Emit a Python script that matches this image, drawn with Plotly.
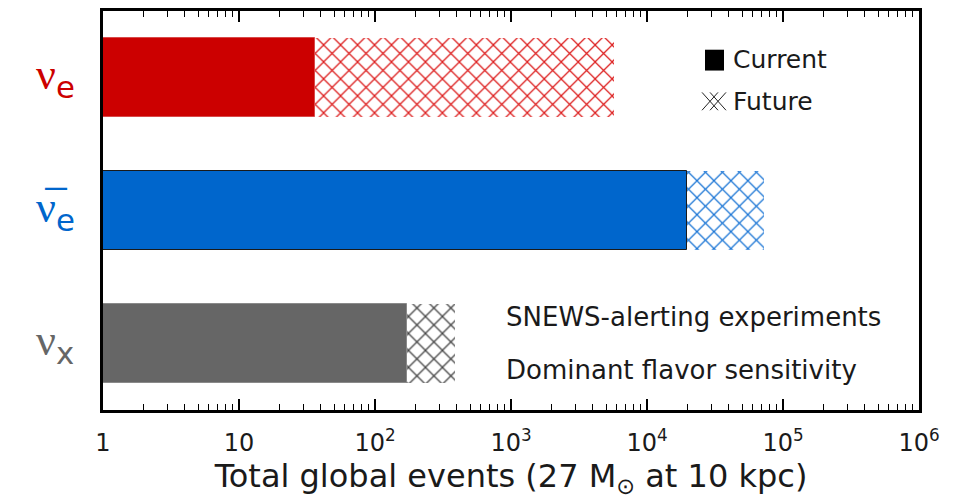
import plotly.graph_objects as go

# Neutrino flavours (top to bottom) and their label markup
flavors = ["nu_e", "nu_e_bar", "nu_x"]
flavor_labels = [
    "<span style='font-family:Liberation Serif'>ν</span><sub>e</sub>",
    "<span style='font-family:Liberation Serif'>ν̅</span><sub>e</sub>",
    "<span style='font-family:Liberation Serif'>ν</span><sub>x</sub>",
]
# Total global events for a 27 Msun supernova at 10 kpc
current_events = [36.5, 19800, 172]
future_events = [5700, 73000, 388]

solid_colors = ["#cc0000", "#0066cc", "#666666"]
hatch_colors = ["#dd2020", "#1f78d6", "#444444"]
edge_colors = ["#d84a4a", "#1a1a1a", "#8a8a8a"]

decades = [1, 10, 100, 1e3, 1e4, 1e5, 1e6]
decade_text = ["1", "10", "10<sup>2</sup>", "10<sup>3</sup>",
               "10<sup>4</sup>", "10<sup>5</sup>", "10<sup>6</sup>"]
minor_vals = [m * d for d in decades[:-1] for m in range(2, 10)]

FONT = "DejaVu Sans"

fig = go.Figure()

# Future reach: hatched bars drawn underneath
for i, f in enumerate(flavors):
    fig.add_trace(go.Bar(
        y=[f], x=[future_events[i]], orientation="h", width=0.6,
        marker=dict(
            color=hatch_colors[i],
            line=dict(width=0),
            pattern=dict(shape="x", fgcolor=hatch_colors[i], bgcolor="white",
                         fillmode="replace", size=12, solidity=0.2),
        ),
        showlegend=False, hoverinfo="skip",
    ))

# Current reach: solid bars on top
for i, f in enumerate(flavors):
    fig.add_trace(go.Bar(
        y=[f], x=[current_events[i]], orientation="h", width=0.6,
        marker=dict(color=solid_colors[i], line=dict(width=1, color=edge_colors[i])),
        showlegend=False, hoverinfo="skip",
    ))

W, H = 962, 501
L, R, T, B = 103, 43, 8, 91
PW, PH = W - L - R, H - T - B


def px(xp):
    return (xp - L) / PW


def py(yp):
    return (H - B - yp) / PH


annotations = []
for i, f in enumerate(flavors):
    annotations.append(dict(
        x=px(55), y=f, xref="paper", yref="y", text=flavor_labels[i],
        showarrow=False, xanchor="center", yanchor="middle",
        font=dict(size=44, color=solid_colors[i], family=FONT),
    ))

text_font = dict(size=26, color="#1a1a1a", family=FONT)
annotations += [
    dict(x=px(504), y=py(316), xref="paper", yref="paper", text="SNEWS-alerting experiments",
         showarrow=False, xanchor="left", yanchor="middle", font=text_font),
    dict(x=px(504), y=py(370), xref="paper", yref="paper", text="Dominant flavor sensitivity",
         showarrow=False, xanchor="left", yanchor="middle", font=text_font),
    dict(x=px(731), y=py(57), xref="paper", yref="paper", text="Current",
         showarrow=False, xanchor="left", yanchor="middle", font=dict(text_font, size=25)),
    dict(x=px(731), y=py(99), xref="paper", yref="paper", text="Future",
         showarrow=False, xanchor="left", yanchor="middle", font=dict(text_font, size=25)),
]

# Legend keys: solid square and a small crosshatch glyph
shapes = [dict(type="rect", xref="paper", yref="paper",
               x0=px(705), x1=px(724), y0=py(68), y1=py(47),
               fillcolor="black", line=dict(width=0))]
cx, cy = 714, 99
for s in (-4, 4):
    shapes.append(dict(type="line", xref="paper", yref="paper",
                       x0=px(cx + s - 8), y0=py(cy - 9), x1=px(cx + s + 8), y1=py(cy + 9),
                       line=dict(color="#222222", width=1)))
    shapes.append(dict(type="line", xref="paper", yref="paper",
                       x0=px(cx + s - 8), y0=py(cy + 9), x1=px(cx + s + 8), y1=py(cy - 9),
                       line=dict(color="#222222", width=1)))

fig.update_layout(
    width=W, height=H,
    margin=dict(l=L, r=R, t=T, b=B),
    paper_bgcolor="white", plot_bgcolor="white",
    barmode="overlay", bargap=0,
    showlegend=False,
    annotations=annotations, shapes=shapes,
    font=dict(family=FONT, color="#1a1a1a"),
)

fig.update_xaxes(
    type="log", range=[0, 6],
    tickvals=decades, ticktext=decade_text,
    ticks="inside", ticklen=11, tickwidth=1.5, tickcolor="black",
    minor=dict(tickvals=minor_vals, ticks="inside", ticklen=6, tickwidth=1.2, tickcolor="black"),
    showline=True, linewidth=3, linecolor="black", mirror="allticks",
    showgrid=False, zeroline=False,
    tickfont=dict(size=24, color="#1a1a1a", family=FONT),
    ticklabelstandoff=9,
    title=dict(text="Total global events (27 M<sub>⊙</sub> at 10 kpc)",
               font=dict(size=32, color="#1a1a1a", family=FONT), standoff=2),
)
fig.update_yaxes(
    type="category", categoryorder="array", categoryarray=flavors,
    range=[2.5, -0.5],
    showticklabels=False, ticks="",
    showline=True, linewidth=3, linecolor="black", mirror=True,
    showgrid=False, zeroline=False,
)

fig.write_html("out.html")
